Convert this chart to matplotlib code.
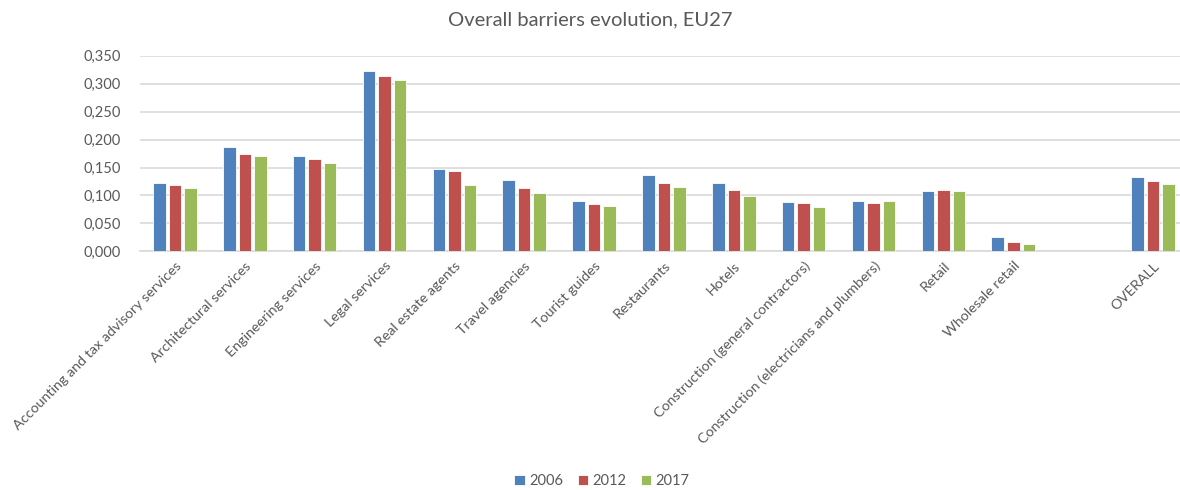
import matplotlib
matplotlib.use("Agg")
import matplotlib.pyplot as plt
import numpy as np
from matplotlib.ticker import FuncFormatter

categories = ["Accounting and tax advisory services", "Architectural services",
              "Engineering services", "Legal services", "Real estate agents",
              "Travel agencies", "Tourist guides", "Restaurants", "Hotels",
              "Construction (general contractors)",
              "Construction (electricians and plumbers)", "Retail",
              "Wholesale retail", "", "OVERALL"]
v2006 = [0.122, 0.187, 0.170, 0.323, 0.147, 0.127, 0.090, 0.136, 0.123, 0.089, 0.090, 0.108, 0.026, np.nan, 0.133]
v2012 = [0.118, 0.175, 0.165, 0.313, 0.144, 0.114, 0.085, 0.123, 0.110, 0.086, 0.086, 0.110, 0.017, np.nan, 0.126]
v2017 = [0.113, 0.170, 0.158, 0.307, 0.118, 0.105, 0.081, 0.115, 0.099, 0.080, 0.090, 0.108, 0.013, np.nan, 0.120]
series = ["2006", "2012", "2017"]
colors = ["#4F81BD", "#C0504D", "#9BBB59"]

plt.rcParams['font.family'] = ['Lato', 'DejaVu Sans']
W, H = 1180, 490
fig = plt.figure(figsize=(W/100, H/100), dpi=100)
left, right, top, bottom = 140, 1180, 55.8, 251.3
ax = fig.add_axes([left/W, 1-bottom/H, (right-left)/W, (bottom-top)/H])

slot = 69.86
x = np.arange(len(categories))
bw = 0.179
off = 0.222
for i, (vals, c, s) in enumerate(zip([v2006, v2012, v2017], colors, series)):
    ax.bar(x + (i-1)*off, vals, width=bw, color=c, edgecolor="white", linewidth=0.6, label=s, zorder=3)

ax.set_xlim(-0.5, -0.5 + (right-left)/slot)
ax.set_ylim(0, 0.35)
ax.set_yticks(np.arange(0, 0.351, 0.05))
ax.yaxis.set_major_formatter(FuncFormatter(lambda v, p: f"{v:.3f}".replace(".", ",")))
ax.grid(axis="y", color="#D9D9D9", linewidth=1.2, zorder=0)
for sp in ["top", "right", "left"]:
    ax.spines[sp].set_visible(False)
ax.spines["bottom"].set_color("#D9D9D9")
ax.spines["bottom"].set_linewidth(1.2)
ax.tick_params(axis="both", length=0, colors="#595959", labelsize=10.5)
ax.tick_params(axis="y", pad=14)
ax.set_xticks(x)
ax.set_xticklabels(categories, rotation=45, ha="right", rotation_mode="anchor", fontsize=10.3, color="#595959")
ax.tick_params(axis="x", pad=6)

fig.text(0.5, 1-20/H, "Overall barriers evolution, EU27", ha="center", va="center", fontsize=14.5, color="#595959")
fig.legend(*ax.get_legend_handles_labels(), loc="center", bbox_to_anchor=(0.51, 1-481/H), ncol=3,
           frameon=False, fontsize=10.5, labelcolor="#595959", handlelength=0.7, handleheight=0.7,
           handletextpad=0.3, columnspacing=1.0)

fig.savefig("out.png", dpi=100)
